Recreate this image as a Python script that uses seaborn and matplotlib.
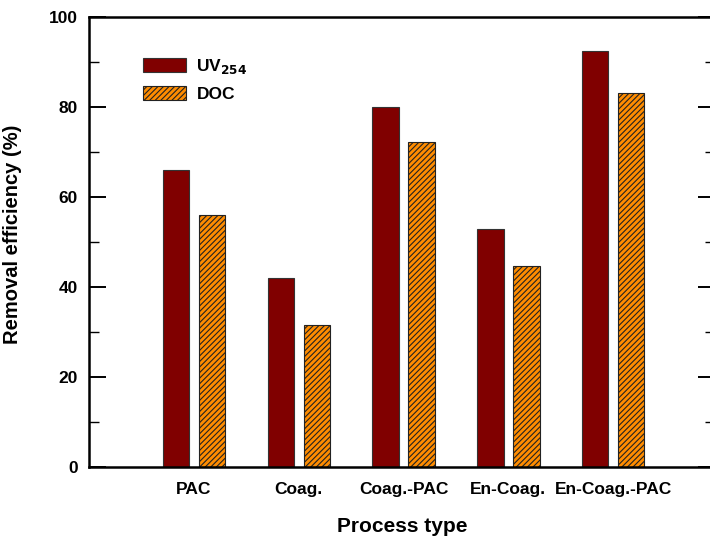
import matplotlib
matplotlib.use("Agg")
import matplotlib.pyplot as plt
import seaborn as sns
import pandas as pd
from matplotlib.ticker import MultipleLocator
from matplotlib.patches import Patch

categories = ["PAC", "Coag.", "Coag.-PAC", "En-Coag.", "En-Coag.-PAC"]
uv254 = [66.0, 42.0, 80.0, 53.0, 92.5]
doc = [56.0, 31.6, 72.2, 44.7, 83.2]
series = ["UV254", "DOC"]
yticks = [0, 20, 40, 60, 80, 100]

sns.set_theme(style="white")
plt.rcParams['font.family'] = ['Liberation Sans', 'DejaVu Sans']
plt.rcParams['font.weight'] = 'bold'
plt.rcParams['hatch.linewidth'] = 0.8
for k in ['text.color', 'axes.labelcolor', 'xtick.color', 'ytick.color', 'axes.edgecolor']:
    plt.rcParams[k] = 'black'

df = pd.DataFrame({
    "Process": categories * 2,
    "Series": [series[0]] * len(categories) + [series[1]] * len(categories),
    "Value": uv254 + doc,
})

fig = plt.figure(figsize=(7.10, 5.42), dpi=100)
ax = fig.add_axes([89 / 710, 75 / 542, (715 - 89) / 710, (467 - 17) / 542])

palette = {"UV254": "#800000", "DOC": "#FF8C00"}
sns.barplot(data=df, x="Process", y="Value", hue="Series", order=categories,
            hue_order=series, palette=palette, width=0.688, gap=0.273,
            edgecolor="#333333", linewidth=0.8, saturation=1, ax=ax, legend=False)

n = len(categories)
for i, p in enumerate(ax.patches):
    if i >= n and i < 2 * n:
        p.set_hatch("//////")
        p.set_edgecolor("#222222")

ax.set_xlim(-1, 4.97)
ax.set_ylim(0, 100)
ax.set_yticks(yticks)
ax.yaxis.set_minor_locator(MultipleLocator(10))
ax.tick_params(axis='y', which='major', direction='in', length=12, width=1.4,
               left=True, right=True, labelsize=12.5, pad=8, colors='black')
ax.tick_params(axis='y', which='minor', direction='in', length=7, width=1.0,
               left=True, right=True, colors='black')
ax.tick_params(axis='x', which='both', length=0, labelsize=12.5, pad=11, colors='black')
for lab in ax.get_xticklabels() + ax.get_yticklabels():
    lab.set_fontweight('bold')

for s in ax.spines.values():
    s.set_visible(True)
    s.set_linewidth(1.8)
    s.set_color('black')

ax.set_xlabel("Process type", fontsize=15, fontweight='bold', labelpad=14, color='black')
ax.set_ylabel("Removal efficiency (%)", fontsize=14.5, fontweight='bold', color='black')
ax.yaxis.set_label_coords(-0.107, 0.516)

handles = [Patch(facecolor="#800000", edgecolor="#333333", linewidth=0.8),
           Patch(facecolor="#FF8C00", edgecolor="#222222", linewidth=0.8, hatch="//////")]
leg = ax.legend(handles, ["UV$_\\mathbf{254}$", "DOC"], loc="upper left",
                bbox_to_anchor=(0.062, 0.945), frameon=False, handlelength=2.45,
                handleheight=0.85, handletextpad=0.6, labelspacing=0.55,
                prop={'weight': 'bold', 'size': 12.5})
for t in leg.get_texts():
    t.set_color('black')

fig.savefig("out.png", dpi=100)
